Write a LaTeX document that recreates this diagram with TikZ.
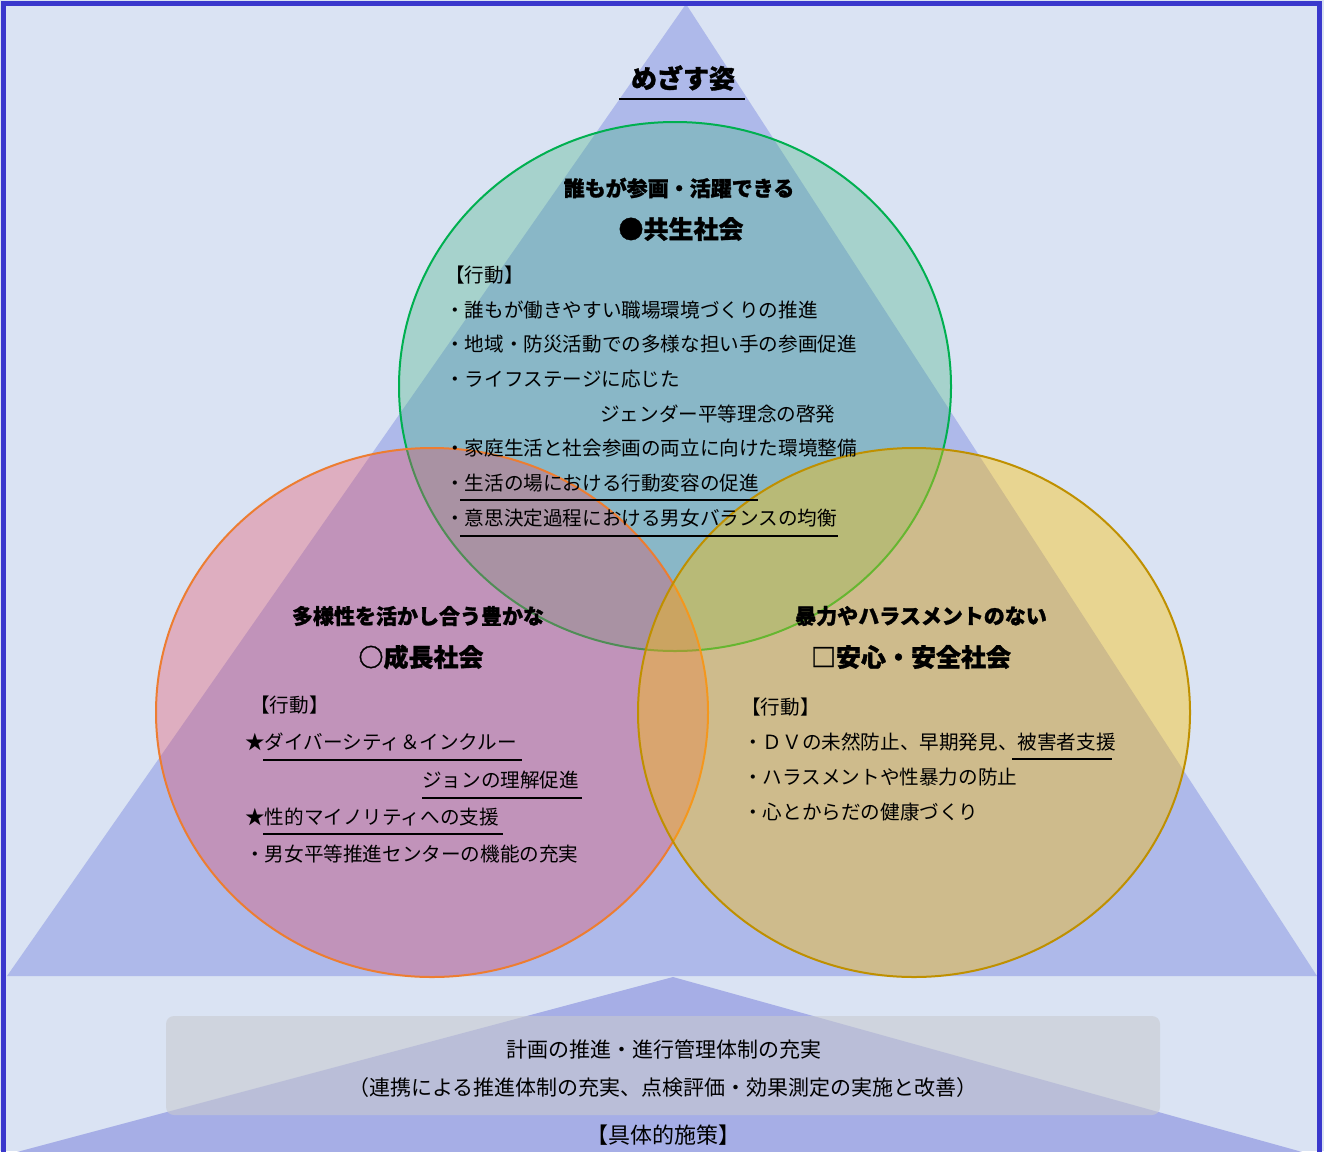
\documentclass[tikz,border=0pt]{standalone}
\usepackage{fontspec}
\setmainfont{Noto Sans CJK JP}[BoldFeatures={FakeBold=1.2}]
\definecolor{bgblue}{RGB}{218,227,243}
\definecolor{trifill}{RGB}{174,185,234}
\definecolor{trifillb}{RGB}{166,174,230}
\definecolor{framec}{RGB}{58,56,204}
\definecolor{gfill}{RGB}{70,180,134}
\definecolor{gline}{RGB}{0,176,80}
\definecolor{ofill}{RGB}{230,78,98}
\definecolor{oline}{RGB}{237,125,49}
\definecolor{yfill}{RGB}{255,192,0}
\definecolor{yline}{RGB}{191,144,0}
\definecolor{boxgray}{RGB}{200,202,208}
\begin{document}
\begin{tikzpicture}[x=1pt,y=-1pt,
  txt/.style={inner sep=0pt, anchor=west, font=\fontsize{19.6}{24}\selectfont},
  ctxt/.style={inner sep=0pt, font=\fontsize{21}{25}\selectfont},
  sub/.style={inner sep=0pt, font=\bfseries\fontsize{21}{25}\selectfont},
  head/.style={inner sep=0pt, font=\bfseries\fontsize{25}{30}\selectfont},
  uline/.style={line width=1.8pt, black},
  circ/.style={line width=2pt, fill opacity=#1, draw opacity=1}
]
\useasboundingbox (0,0) rectangle (1324,1151);
\fill[bgblue] (0,0) rectangle (1324,1151);
% big triangle
\fill[trifill] (686,4) -- (1317,976) -- (7,976) -- cycle;
% bottom triangle
\fill[trifillb] (673,977) -- (1331,1160) -- (-13,1160) -- cycle;
% gray box
\fill[boxgray, fill opacity=0.6, rounded corners=8pt] (166,1016) rectangle (1160,1115);
% circles
\filldraw[circ=0.35, fill=gfill, draw=gline] (675,386.5) ellipse [x radius=276, y radius=264.5];
\filldraw[circ=0.35, fill=ofill, draw=oline] (432,712.5) ellipse [x radius=276, y radius=264.5];
\filldraw[circ=0.4, fill=yfill, draw=yline] (914,712.5) ellipse [x radius=276, y radius=264.5];
% frame
\draw[line width=5pt, framec] (3.5,1165) -- (3.5,3.5) -- (1319.5,3.5) -- (1319.5,1165);

% title
\node[inner sep=0pt, font=\bfseries\fontsize{26}{30}\selectfont] (goal) at (683,78) {めざす姿};
\draw[line width=2.2pt] (619,99) -- (745,99);

% top circle
\node[sub] (t1) at (679,188) {誰もが参画・活躍できる};
\node[head] (t2) at (681,229) {●共生社会};
\node[txt] (t3) at (445,275) {【行動】};
\node[txt] (t4) at (445,310) {・誰もが働きやすい職場環境づくりの推進};
\node[txt] (t5) at (445,344) {・地域・防災活動での多様な担い手の参画促進};
\node[txt] (t6) at (445,379) {・ライフステージに応じた};
\node[txt] (t7) at (600,414) {ジェンダー平等理念の啓発};
\node[txt] (t8) at (445,448) {・家庭生活と社会参画の両立に向けた環境整備};
\node[txt] (t9) at (445,483) {・生活の場における行動変容の促進};
\node[txt] (t10) at (445,518) {・意思決定過程における男女バランスの均衡};
\draw[uline] (460,500) -- (758,500);
\draw[uline] (460,536) -- (838,536);

% left circle
\node[sub] (l1) at (418,616) {多様性を活かし合う豊かな};
\node[head] (l2) at (421,657) {○成長社会};
\node[txt] (l3) at (250,705) {【行動】};
\node[txt] (l4) at (245,742) {★ダイバーシティ＆インクルー};
\node[txt] (l5) at (422,780) {ジョンの理解促進};
\node[txt] (l6) at (245,817) {★性的マイノリティへの支援};
\node[txt] (l7) at (245,854) {・男女平等推進センターの機能の充実};
\draw[uline] (263,760) -- (522,760);
\draw[uline] (422,798) -- (582,798);
\draw[uline] (263,834) -- (503,834);

% right circle
\node[sub] (r1) at (921,616) {暴力やハラスメントのない};
\node[head] (r2) at (911,657) {□安心・安全社会};
\node[txt] (r3) at (741,707) {【行動】};
\node[txt] (r4) at (743,742) {・ＤＶの未然防止、早期発見、被害者支援};
\node[txt] (r5) at (743,777) {・ハラスメントや性暴力の防止};
\node[txt] (r6) at (743,812) {・心とからだの健康づくり};
\draw[uline] (1012,759) -- (1112,759);

% bottom
\node[ctxt] (b1) at (664,1049) {計画の推進・進行管理体制の充実};
\node[ctxt] (b2) at (663,1088) {（連携による推進体制の充実、点検評価・効果測定の実施と改善）};
\node[inner sep=0pt, font=\fontsize{22}{26}\selectfont] (b3) at (663,1135) {【具体的施策】};
\end{tikzpicture}
\end{document}
